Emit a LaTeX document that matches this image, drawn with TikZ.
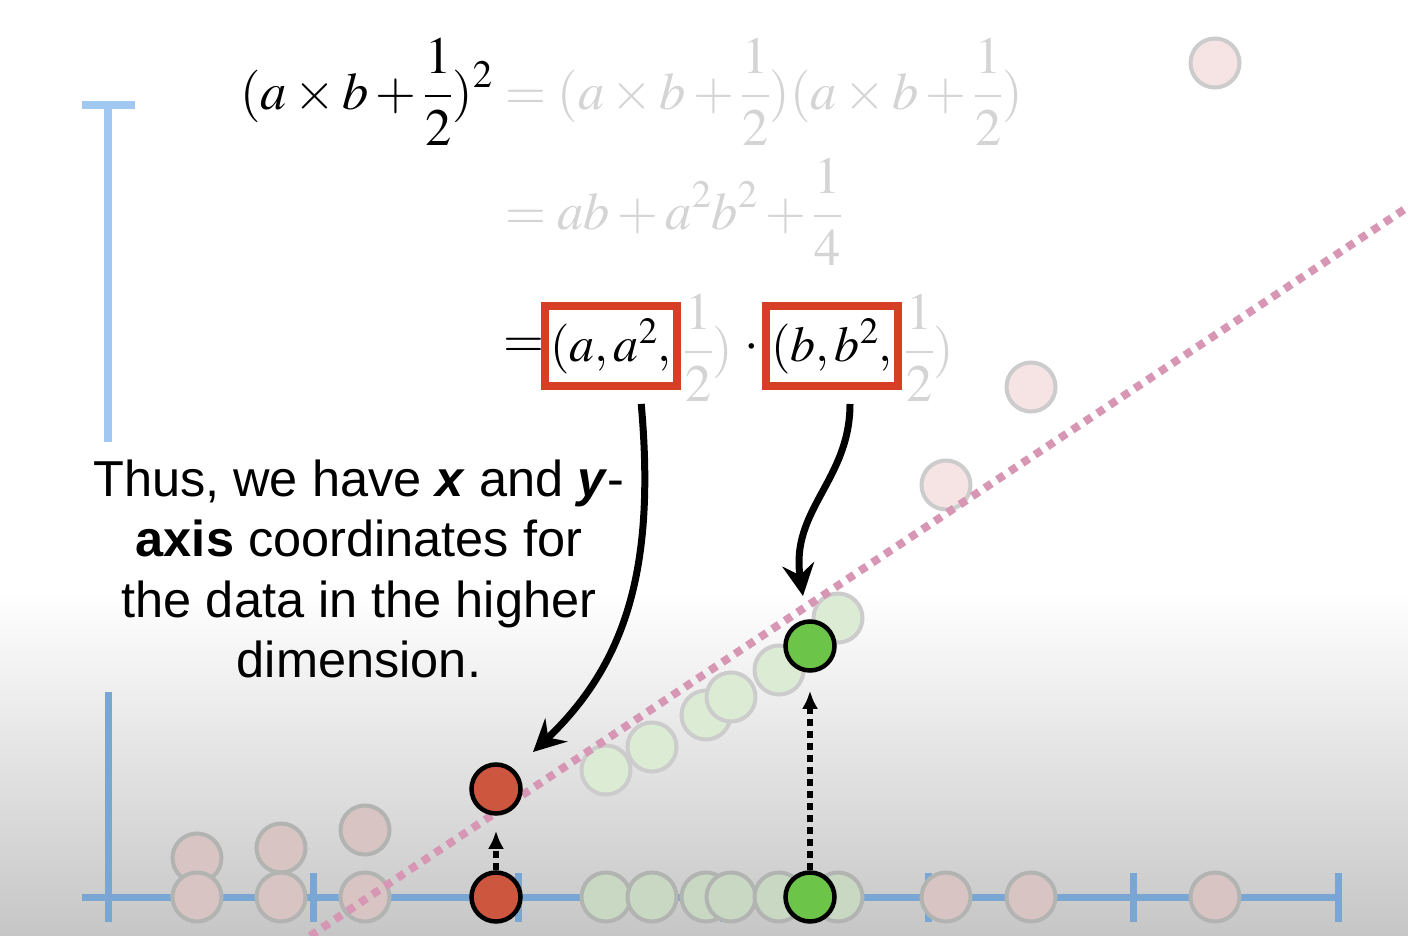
\documentclass[tikz,border=0pt]{standalone}
\usepackage{mathptmx}
\usepackage[no-math]{fontspec}
\usetikzlibrary{arrows.meta,positioning}
\newfontfamily\helv{Liberation Sans}

\definecolor{axisblue}{RGB}{160,200,240}
\definecolor{axisdark}{RGB}{122,166,212}
\definecolor{boxred}{RGB}{214,62,38}
\definecolor{eqgrey}{RGB}{212,212,212}
\definecolor{lineplum}{RGB}{214,150,180}
\definecolor{ptred}{RGB}{204,86,62}
\definecolor{ptgreen}{RGB}{108,196,72}
\definecolor{fadepink}{RGB}{246,228,228}
\definecolor{fadepinklow}{RGB}{216,196,194}
\definecolor{fadegreen}{RGB}{220,236,212}
\definecolor{fadegreenlow}{RGB}{200,216,194}
\definecolor{fadeedge}{RGB}{204,204,204}
\definecolor{fadeedgelow}{RGB}{178,180,178}
\definecolor{bgbottom}{RGB}{198,198,198}

\begin{document}
\begin{tikzpicture}[
    x=1pt, y=-1pt,
    mathtxt/.style={inner sep=0pt, font=\fontsize{52.5}{62}\selectfont},
    redbox/.style={draw=boxred, line width=8pt, minimum width=132pt, minimum height=80pt, inner sep=0pt, font=\fontsize{50}{60}\selectfont},
    datum/.style={circle, minimum size=49pt, inner sep=0pt},
    datumfade/.style={datum, draw=fadeedge, line width=4pt, fill=#1},
    datumlow/.style={datum, draw=fadeedgelow, line width=4pt, fill=#1},
    datumbold/.style={datum, draw=black, line width=4.5pt, fill=#1},
    bigpfeil/.style={-{Stealth[length=32pt, width=32pt, inset=11pt]}, line width=7pt},
    uppfeil/.style={-{Latex[length=18pt, width=16pt]}, line width=5.5pt, dash pattern=on 7pt off 5pt},
    axis/.style={line width=7pt}
  ]
  % background
  \fill[white] (0,0) rectangle (1408,936);
  \shade[top color=white, bottom color=bgbottom] (0,590) rectangle (1408,936);
  \useasboundingbox (0,0) rectangle (1408,936);

  % axes
  \draw[axis, axisblue, line width=8pt] (82,105) -- (135,105);
  \draw[axis, axisblue, line width=8pt] (108,105) -- (108,442);
  \draw[axis, axisdark] (82,897) -- (1340,897);
  \draw[axis, axisdark] (108,692) -- (108,922);
  \foreach \t in {313,518,723,928,1133,1338}
    \draw[axis, axisdark] (\t,873) -- (\t,922);

  % equations
  \node[mathtxt, anchor=west] (lhs) at (240,92) {$\displaystyle (a\times b+\frac{1}{2})^2$};
  \node[mathtxt, anchor=west, text=eqgrey] (rhsa) at (505,92) {$\displaystyle =(a\times b+\frac{1}{2})(a\times b+\frac{1}{2})$};
  \node[mathtxt, anchor=west, text=eqgrey] (rhsb) at (505,212) {$\displaystyle =ab+a^2b^2+\frac{1}{4}$};
  \node[mathtxt, anchor=west] (eqsign) at (503,348) {$=$};
  \node[redbox] (boxa) at (611,346) {$(a,a^2,$};
  \node[mathtxt, anchor=west, text=eqgrey] (halfa) at (684,348) {$\displaystyle\frac{1}{2})$};
  \node[mathtxt] (prod) at (752,348) {$\cdot$};
  \node[redbox] (boxb) at (832,346) {$(b,b^2,$};
  \node[mathtxt, anchor=west, text=eqgrey] (halfb) at (905,348) {$\displaystyle\frac{1}{2})$};

  % caption
  \node[align=center, inner sep=0pt, font=\helv\fontsize{50.5}{60.5}\selectfont] (caption) at (359,569)
    {Thus, we have \textbf{\textit{x}} and \textbf{\textit{y}}-\\ \textbf{axis} coordinates for\\ the data in the higher\\ dimension.};

  % faded data points
  \foreach \px/\py [count=\i] in {1215/63, 1031/387, 946/485}
    \node[datumfade=fadepink] (pu\i) at (\px,\py) {};
  \foreach \px/\py [count=\i] in {197/858, 281/848, 365/830, 197/897, 281/897, 365/897, 946/897, 1031/897, 1215/897}
    \node[datumlow=fadepinklow] (pl\i) at (\px,\py) {};
  \foreach \px/\py [count=\i] in {606/770, 652/747, 706/715, 731/697, 779/670, 838/618}
    \node[datumfade=fadegreen] (gu\i) at (\px,\py) {};
  \foreach \px/\py [count=\i] in {606/897, 652/897, 706/897, 731/897, 779/897, 838/897}
    \node[datumlow=fadegreenlow] (gl\i) at (\px,\py) {};

  % mapping line
  \coordinate (linea) at (310,936);
  \coordinate (lineb) at (1408,207);
  \draw[lineplum, line width=8pt, dash pattern=on 8pt off 7pt] (linea) -- (lineb);

  % highlighted points
  \node[datumbold=ptred] (redlow) at (496,897) {};
  \node[datumbold=ptred] (redtop) at (496,789) {};
  \node[datumbold=ptgreen] (greenlow) at (810,897) {};
  \node[datumbold=ptgreen] (greentop) at (810,646) {};

  \draw[uppfeil, shorten >=15pt] (redlow) -- (redtop);
  \draw[uppfeil, shorten >=18pt] (greenlow) -- (greentop);

  % arrows from the boxes
  \coordinate (tipa) at (533,752);
  \coordinate (tipb) at (803,596);
  \draw[bigpfeil, shorten <=14pt] ([xshift=29pt]boxa.south) .. controls (655,560) and (630,660) .. (tipa);
  \draw[bigpfeil, shorten <=14pt] ([xshift=18pt]boxb.south) .. controls (850,480) and (790,510) .. (tipb);
\end{tikzpicture}
\end{document}
